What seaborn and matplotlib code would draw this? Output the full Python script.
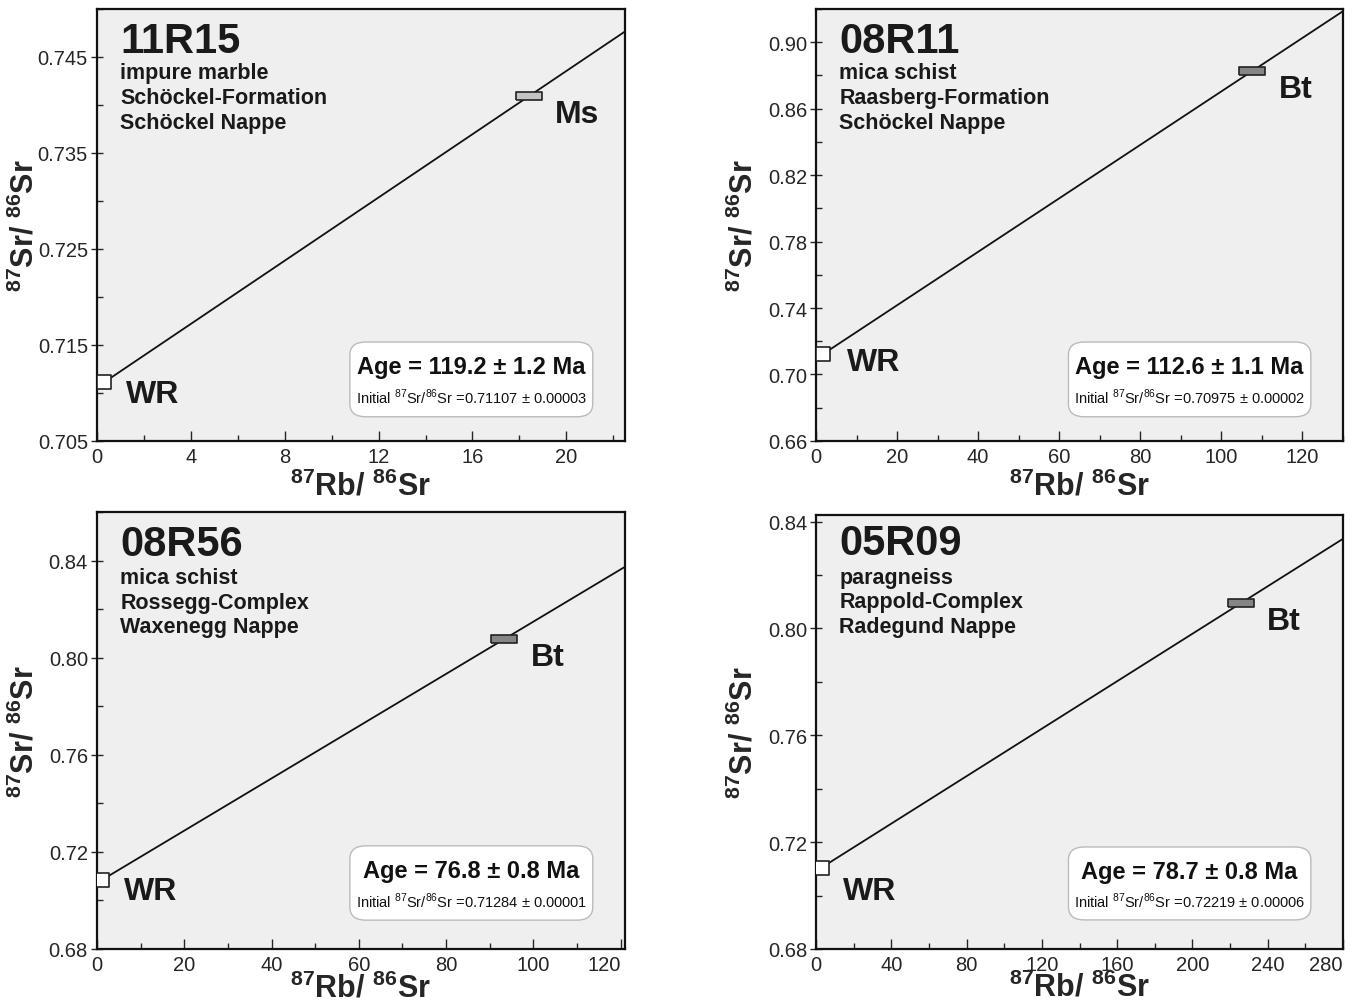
import numpy as np
import pandas as pd
import matplotlib
matplotlib.use('Agg')
import matplotlib.pyplot as plt
import seaborn as sns
from matplotlib.patches import FancyBboxPatch
from matplotlib.ticker import MultipleLocator, FormatStrFormatter

# ---- data ----
samples = ['11R15', '08R11', '08R56', '05R09']
rocks = ['impure marble', 'mica schist', 'mica schist', 'paragneiss']
units = ['Schöckel-Formation', 'Raasberg-Formation', 'Rossegg-Complex', 'Rappold-Complex']
nappes = ['Schöckel Nappe', 'Schöckel Nappe', 'Waxenegg Nappe', 'Radegund Nappe']
minerals = ['Ms', 'Bt', 'Bt', 'Bt']

wr_rb = [0.3, 1.8, 1.2, 3.0]
wr_sr = [0.7111, 0.7124, 0.7085, 0.7105]
min_rb = [18.4, 107.6, 93.3, 225.6]
min_sr = [0.7409, 0.8826, 0.8076, 0.8094]

ages = ['119.2 ± 1.2', '112.6 ± 1.1', '76.8 ± 0.8', '78.7 ± 0.8']
initials = ['0.71107 ± 0.00003', '0.70975 ± 0.00002', '0.71284 ± 0.00001', '0.72219 ± 0.00006']

x_lims = [(0, 22.5), (0, 130), (0, 121), (0, 280)]
y_lims = [(0.705, 0.750), (0.66, 0.92), (0.68, 0.86), (0.68, 0.8425)]

# ---- styling ----
sns.set_style('ticks')
plt.rcParams['font.family'] = ['Liberation Sans', 'DejaVu Sans']
plt.rcParams['mathtext.fontset'] = 'custom'
plt.rcParams['mathtext.rm'] = 'Liberation Sans'
plt.rcParams['mathtext.bf'] = 'Liberation Sans:bold'

x_major = [4, 20, 20, 40]
x_minor = [2, 10, 10, 20]
y_major = [0.01, 0.04, 0.04, 0.04]
y_minor = [0.005, 0.02, 0.02, 0.02]
y_fmt = ['%.3f', '%.2f', '%.2f', '%.2f']
min_color = {'Ms': '#c4c4c4', 'Bt': '#858585'}

# axes boxes in figure fraction [left, bottom, width, height]
positions = [
    [0.0715, 0.5598, 0.3894, 0.4303],
    [0.6018, 0.5598, 0.3886, 0.4303],
    [0.0715, 0.0538, 0.3894, 0.4353],
    [0.6018, 0.0538, 0.3886, 0.4323],
]
title_y = [0.926, 0.926, 0.927, 0.935]
line_y = [[0.852, 0.796, 0.738], [0.852, 0.796, 0.738],
          [0.849, 0.792, 0.737], [0.857, 0.800, 0.742]]
box_y = [(0.056, 0.229), (0.056, 0.229), (0.066, 0.236), (0.067, 0.235)]
wr_off = [(16, -8), (17, -6), (16, -8), (15, -17)]
xlab_y = [-0.068, -0.068, -0.052, -0.052]
last_right = [False, False, True, True]

# rectangular marker for the mineral error boxes
rect = [(-1.6, -0.5), (1.6, -0.5), (1.6, 0.5), (-1.6, 0.5), (-1.6, -0.5)]

fig = plt.figure(figsize=(13.56, 10.04), dpi=100)

for i in range(4):
    ax = fig.add_axes(positions[i])
    ax.set_facecolor('#efefef')
    x0, x1 = x_lims[i]
    y0, y1 = y_lims[i]

    # isochron through WR and mineral, extended to the right frame
    slope = (min_sr[i] - wr_sr[i]) / (min_rb[i] - wr_rb[i])
    iso = pd.DataFrame({'x': [wr_rb[i], x1],
                        'y': [wr_sr[i], wr_sr[i] + slope * (x1 - wr_rb[i])]})
    sns.lineplot(data=iso, x='x', y='y', ax=ax, color='#111111', lw=1.3, zorder=2)

    wr = pd.DataFrame({'x': [wr_rb[i]], 'y': [wr_sr[i]]})
    sns.scatterplot(data=wr, x='x', y='y', ax=ax, marker='s', s=90,
                    facecolor='white', edgecolor='#222222', linewidth=1.2, zorder=3)
    mn = pd.DataFrame({'x': [min_rb[i]], 'y': [min_sr[i]]})
    sns.scatterplot(data=mn, x='x', y='y', ax=ax, marker=rect, s=360,
                    facecolor=min_color[minerals[i]], edgecolor='#222222',
                    linewidth=1.2, zorder=3)

    ax.annotate(minerals[i], (min_rb[i], min_sr[i]), xytext=(19, -13),
                textcoords='offset points', ha='left', va='center',
                fontsize=23, fontweight='bold', color='#1a1a1a')
    ax.annotate('WR', (wr_rb[i], wr_sr[i]), xytext=wr_off[i],
                textcoords='offset points', ha='left', va='center',
                fontsize=23, fontweight='bold', color='#1a1a1a')

    # sample description
    tx = 0.044
    ax.text(tx, title_y[i], samples[i], transform=ax.transAxes, ha='left',
            va='center', fontsize=30, fontweight='bold', color='#1a1a1a')
    for txt, yy in zip([rocks[i], units[i], nappes[i]], line_y[i]):
        ax.text(tx, yy, txt, transform=ax.transAxes, ha='left', va='center',
                fontsize=15.5, fontweight='bold', color='#1a1a1a')

    # age box
    by0, by1 = box_y[i]
    ax.add_patch(FancyBboxPatch((0.479, by0), 0.46, by1 - by0,
                                boxstyle='round,pad=0,rounding_size=0.03',
                                transform=ax.transAxes, facecolor='white',
                                edgecolor='#bbbbbb', lw=1.0, zorder=4))
    ax.text(0.709, by0 + (by1 - by0) * 0.67, f'Age = {ages[i]} Ma',
            transform=ax.transAxes, ha='center', va='center', fontsize=17,
            fontweight='bold', color='#111111', zorder=5)
    ax.text(0.709, by0 + (by1 - by0) * 0.27,
            r'Initial $^{87}$Sr/$^{86}$Sr =' + initials[i],
            transform=ax.transAxes, ha='center', va='center', fontsize=10.5,
            color='#111111', zorder=5)

    ax.set_xlim(x0, x1)
    ax.set_ylim(y0, y1)
    ax.xaxis.set_major_locator(MultipleLocator(x_major[i]))
    ax.xaxis.set_minor_locator(MultipleLocator(x_minor[i]))
    ax.set_yticks(np.arange(y0, y1 + 1e-9, y_major[i]))
    ax.yaxis.set_minor_locator(MultipleLocator(y_minor[i]))
    ax.yaxis.set_major_formatter(FormatStrFormatter(y_fmt[i]))
    ax.tick_params(axis='x', which='major', direction='in', length=7, width=1,
                   labelsize=14.5, pad=4)
    ax.tick_params(axis='x', which='minor', direction='in', length=4, width=1)
    ax.tick_params(axis='y', which='major', direction='inout', length=9, width=1,
                   labelsize=14.5, pad=2)
    ax.tick_params(axis='y', which='minor', direction='in', length=4, width=1)
    for sp in ax.spines.values():
        sp.set_linewidth(1.6)
        sp.set_color('#111111')

    ax.set_xlabel(r'$^{\mathbf{87}}$Rb/ $^{\mathbf{86}}$Sr', fontsize=22,
                  fontweight='bold')
    ax.set_ylabel(r'$^{\mathbf{87}}$Sr/ $^{\mathbf{86}}$Sr', fontsize=22,
                  fontweight='bold')
    ax.xaxis.set_label_coords(0.5, xlab_y[i])
    ax.yaxis.set_label_coords(-0.107, 0.5)

    if last_right[i]:
        fig.canvas.draw()
        labs = [t for t in ax.get_xticklabels()
                if x0 <= t.get_position()[0] <= x1]
        labs[-1].set_horizontalalignment('right')
        labs[-1].set_x(x1)

fig.savefig('out.png', dpi=100, facecolor='white')
